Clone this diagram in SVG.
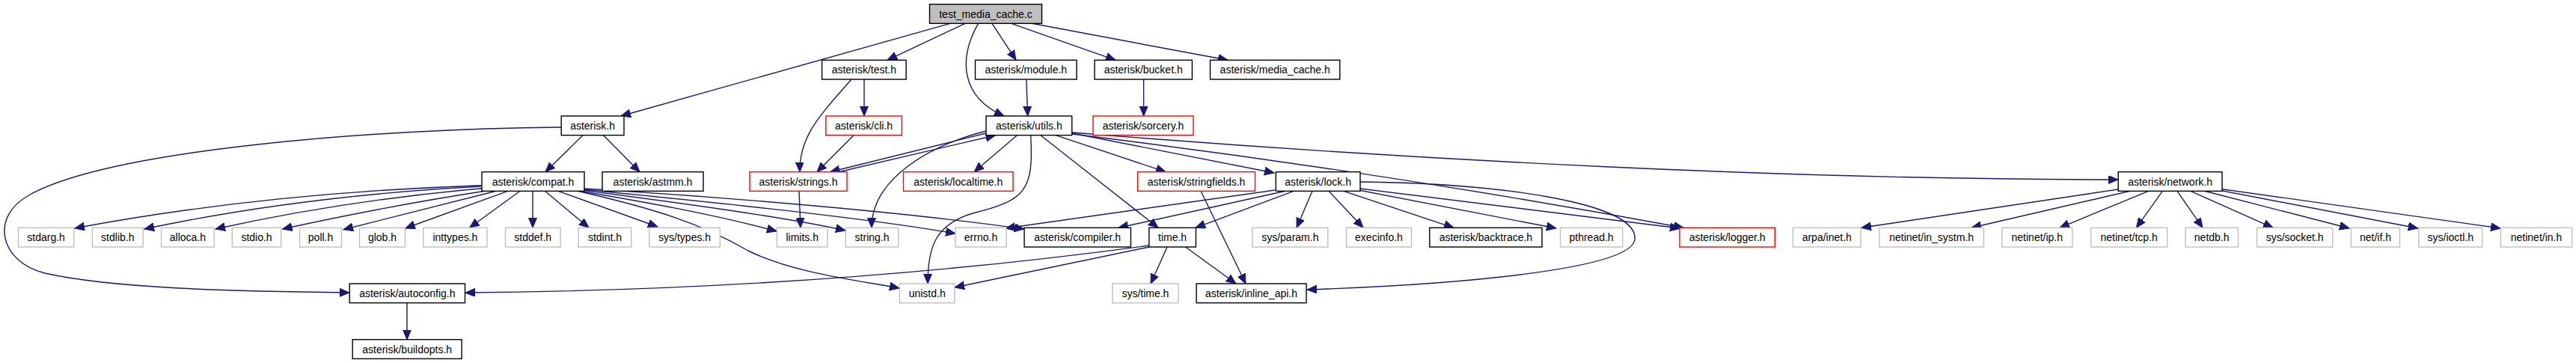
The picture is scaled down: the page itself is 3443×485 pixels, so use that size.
<svg xmlns="http://www.w3.org/2000/svg" width="3443" height="485" viewBox="0 0 3443 485">
<defs>
<marker id="a" markerUnits="userSpaceOnUse" markerWidth="14" markerHeight="12" viewBox="0 0 14 12" refX="13" refY="5.5" orient="auto"><path d="M0,0 L13,5.5 L0,11 z" fill="#191970" stroke="#191970" stroke-width="1"/></marker>
<style>
rect{fill:#fff;stroke:#000;stroke-width:1.4}
.r rect{stroke:#ff0000}
.g rect{stroke:#bfbfbf}
.root rect{fill:#bfbfbf}
text{font-family:"Liberation Sans",Arial,sans-serif;font-size:14px;text-anchor:middle;fill:#000}
#edges path{fill:none;stroke:#191970;stroke-width:1.4;marker-end:url(#a)}
</style>
</defs>
<rect x="0" y="0" width="3443" height="485" style="fill:#fff;stroke:none"/>
<g id="edges">
<path d="M1270,31.3 L830,155"/>
<path d="M1290,31.3 L1186,80.3"/>
<path d="M1307.5,31.3 C1280,80 1285,130 1342,155"/>
<path d="M1326,31.3 L1358,80.3"/>
<path d="M1351.7,31.3 L1491,80.3"/>
<path d="M1379,31.3 L1641,80.3"/>
<path d="M1155,106 L1155,155"/>
<path d="M1138,106 C1100,150 1068,180 1069,229.7"/>
<path d="M1371.8,106 L1373.6,155"/>
<path d="M1528.6,106 L1528.6,155"/>
<path d="M779,180.7 L729,229.7"/>
<path d="M806.5,180.7 L855,229.7"/>
<path d="M750,170 C500,172 150,200 40,260 C-15,290 0,350 60,365 C150,385 300,389 467,391"/>
<path d="M1141,180.7 L1092,229.7"/>
<path d="M1318,178 L1109.5,229.7"/>
<path d="M1121,229.7 L1330.5,180.7"/>
<path d="M1318,175 C1240,195 1165,240 1165,304.3"/>
<path d="M1359.4,180.7 L1302,229.7"/>
<path d="M1377.6,180.7 C1382,255 1370,268 1300,285 C1250,300 1240,330 1240,379"/>
<path d="M1390.8,180.7 L1548,304.3"/>
<path d="M1411,180.7 L1558,229.7"/>
<path d="M1432.7,178 L1703,231"/>
<path d="M1432.7,179 Q1850,230 2250,304.3"/>
<path d="M1432.7,177 C1900,215 2400,240 2831,240"/>
<path d="M643,247.7 Q350,258 100,305"/>
<path d="M643,249 Q400,262 193,306"/>
<path d="M644,251.7 Q460,268 288,306"/>
<path d="M648,255.3 Q520,275 377.6,306"/>
<path d="M663,255.3 L459,306.7"/>
<path d="M678.6,255.3 L541.8,305"/>
<path d="M695,255.3 L627.6,304.3"/>
<path d="M712,255.3 L712,304.3"/>
<path d="M728.4,255.3 L787,304.3"/>
<path d="M746,255.3 L879,303"/>
<path d="M776,255.3 C850,268 950,285 1038,309"/>
<path d="M778,254 C900,270 1050,290 1130,308"/>
<path d="M779,253 C950,270 1150,290 1277,312"/>
<path d="M780,252 C950,262 1200,282 1369,306"/>
<path d="M772,255.3 C880,280 940,300 1000,335 C1060,365 1150,375 1202,385"/>
<path d="M1068,255.3 L1070,304.3"/>
<path d="M1704,254 L1344,305"/>
<path d="M1718,255.3 L1495,304.3"/>
<path d="M1729,255.3 L1598,304.3"/>
<path d="M1754,255.3 L1733,304.3"/>
<path d="M1776,255.3 L1822,304.3"/>
<path d="M1796,255.3 L1943,304.3"/>
<path d="M1816,254 L2080,305"/>
<path d="M1818,252 L2245,305"/>
<path d="M1818,243 C2000,245 2190,270 2185,320 C2180,360 1950,380 1747,387"/>
<path d="M1605,255.3 L1665,379"/>
<path d="M1560,330 L1538,379"/>
<path d="M1584.5,330 L1652,379"/>
<path d="M1536,330 L1276,384"/>
<path d="M1536,328 C1300,360 1000,388 622,391"/>
<path d="M544,404.7 L544,453.7"/>
<path d="M2831,253 L2488,304.3"/>
<path d="M2847,255.3 L2635,304.3"/>
<path d="M2871.5,255.3 L2753,304.3"/>
<path d="M2890.3,255.3 L2855.4,304.3"/>
<path d="M2910,255.3 L2944,304.3"/>
<path d="M2928,255.3 L3038,304.3"/>
<path d="M2946.8,255.3 L3140,305"/>
<path d="M2965.6,254 L3231.7,305"/>
<path d="M2970,252.7 L3342,305"/>
</g>
<g id="n_test_media_cache_c" class="root"><rect x="1242.5" y="5.67" width="150" height="25.67"/><text x="1317.5" y="23.5">test_media_cache.c</text></g>
<g id="n_test_h"><rect x="1098.6" y="80.33" width="112.5" height="25.67"/><text x="1154.85" y="98.1">asterisk/test.h</text></g>
<g id="n_module_h"><rect x="1303.5" y="80.33" width="135.5" height="25.67"/><text x="1371.25" y="98.1">asterisk/module.h</text></g>
<g id="n_bucket_h"><rect x="1463" y="80.33" width="130.4" height="25.67"/><text x="1528.2" y="98.1">asterisk/bucket.h</text></g>
<g id="n_media_cache_h"><rect x="1617.5" y="80.33" width="173.3" height="25.67"/><text x="1704.15" y="98.1">asterisk/media_cache.h</text></g>
<g id="n_asterisk_h"><rect x="750.2" y="155" width="83.8" height="25.67"/><text x="792.1" y="172.8">asterisk.h</text></g>
<g id="n_cli_h" class="r"><rect x="1103.8" y="155" width="101.6" height="25.67"/><text x="1154.6" y="172.8">asterisk/cli.h</text></g>
<g id="n_utils_h"><rect x="1318" y="155" width="114.7" height="25.67"/><text x="1375.35" y="172.8">asterisk/utils.h</text></g>
<g id="n_sorcery_h" class="r"><rect x="1461" y="155" width="134" height="25.67"/><text x="1528" y="172.8">asterisk/sorcery.h</text></g>
<g id="n_compat_h"><rect x="644" y="229.67" width="137" height="25.67"/><text x="712.5" y="247.5">asterisk/compat.h</text></g>
<g id="n_astmm_h"><rect x="805" y="229.67" width="135" height="25.67"/><text x="872.5" y="247.5">asterisk/astmm.h</text></g>
<g id="n_strings_h" class="r"><rect x="1002" y="229.67" width="130" height="25.67"/><text x="1067" y="247.5">asterisk/strings.h</text></g>
<g id="n_localtime_h" class="r"><rect x="1207.5" y="229.67" width="146.5" height="25.67"/><text x="1280.75" y="247.5">asterisk/localtime.h</text></g>
<g id="n_stringfields_h" class="r"><rect x="1520.5" y="229.67" width="157" height="25.67"/><text x="1599" y="247.5">asterisk/stringfields.h</text></g>
<g id="n_lock_h"><rect x="1705.3" y="229.67" width="112.7" height="25.67"/><text x="1761.65" y="247.5">asterisk/lock.h</text></g>
<g id="n_network_h"><rect x="2831.2" y="229.67" width="138.8" height="25.67"/><text x="2900.6" y="247.5">asterisk/network.h</text></g>
<g id="n_stdarg_h" class="g"><rect x="24.5" y="304.33" width="74.2" height="25.67"/><text x="61.6" y="322.1">stdarg.h</text></g>
<g id="n_stdlib_h" class="g"><rect x="123.4" y="304.33" width="67.8" height="25.67"/><text x="157.3" y="322.1">stdlib.h</text></g>
<g id="n_alloca_h" class="g"><rect x="215.6" y="304.33" width="70.7" height="25.67"/><text x="250.95" y="322.1">alloca.h</text></g>
<g id="n_stdio_h" class="g"><rect x="310.3" y="304.33" width="65.4" height="25.67"/><text x="343" y="322.1">stdio.h</text></g>
<g id="n_poll_h" class="g"><rect x="400.6" y="304.33" width="55.9" height="25.67"/><text x="428.55" y="322.1">poll.h</text></g>
<g id="n_glob_h" class="g"><rect x="480.5" y="304.33" width="61" height="25.67"/><text x="511" y="322.1">glob.h</text></g>
<g id="n_inttypes_h" class="g"><rect x="565.8" y="304.33" width="85.2" height="25.67"/><text x="608.4" y="322.1">inttypes.h</text></g>
<g id="n_stddef_h" class="g"><rect x="675.5" y="304.33" width="73.5" height="25.67"/><text x="712.25" y="322.1">stddef.h</text></g>
<g id="n_stdint_h" class="g"><rect x="773.2" y="304.33" width="70.6" height="25.67"/><text x="808.5" y="322.1">stdint.h</text></g>
<g id="n_sys_types_h" class="g"><rect x="867.8" y="304.33" width="94.6" height="25.67"/><text x="915.1" y="322.1">sys/types.h</text></g>
<g id="n_limits_h" class="g"><rect x="1038.5" y="304.33" width="67.5" height="25.67"/><text x="1072.25" y="322.1">limits.h</text></g>
<g id="n_string_h" class="g"><rect x="1130.3" y="304.33" width="70.5" height="25.67"/><text x="1165.55" y="322.1">string.h</text></g>
<g id="n_errno_h" class="g"><rect x="1277" y="304.33" width="68" height="25.67"/><text x="1311" y="322.1">errno.h</text></g>
<g id="n_compiler_h"><rect x="1369" y="304.33" width="142.4" height="25.67"/><text x="1440.2" y="322.1">asterisk/compiler.h</text></g>
<g id="n_time_h"><rect x="1535.8" y="304.33" width="62.6" height="25.67"/><text x="1567.1" y="322.1">time.h</text></g>
<g id="n_sys_param_h" class="g"><rect x="1673.8" y="304.33" width="101" height="25.67"/><text x="1724.3" y="322.1">sys/param.h</text></g>
<g id="n_execinfo_h" class="g"><rect x="1799.5" y="304.33" width="87" height="25.67"/><text x="1843" y="322.1">execinfo.h</text></g>
<g id="n_backtrace_h"><rect x="1910.8" y="304.33" width="150.2" height="25.67"/><text x="1985.9" y="322.1">asterisk/backtrace.h</text></g>
<g id="n_pthread_h" class="g"><rect x="2085.5" y="304.33" width="83.2" height="25.67"/><text x="2127.1" y="322.1">pthread.h</text></g>
<g id="n_logger_h" class="r"><rect x="2245" y="304.33" width="127.3" height="25.67"/><text x="2308.65" y="322.1">asterisk/logger.h</text></g>
<g id="n_arpa_inet_h" class="g"><rect x="2396.4" y="304.33" width="90.7" height="25.67"/><text x="2441.75" y="322.1">arpa/inet.h</text></g>
<g id="n_netinet_in_systm_h" class="g"><rect x="2511.8" y="304.33" width="139.7" height="25.67"/><text x="2581.65" y="322.1">netinet/in_systm.h</text></g>
<g id="n_netinet_ip_h" class="g"><rect x="2675.7" y="304.33" width="94.2" height="25.67"/><text x="2722.8" y="322.1">netinet/ip.h</text></g>
<g id="n_netinet_tcp_h" class="g"><rect x="2794.6" y="304.33" width="102.2" height="25.67"/><text x="2845.7" y="322.1">netinet/tcp.h</text></g>
<g id="n_netdb_h" class="g"><rect x="2921" y="304.33" width="70.4" height="25.67"/><text x="2956.2" y="322.1">netdb.h</text></g>
<g id="n_sys_socket_h" class="g"><rect x="3016.6" y="304.33" width="101.1" height="25.67"/><text x="3067.15" y="322.1">sys/socket.h</text></g>
<g id="n_net_if_h" class="g"><rect x="3142.4" y="304.33" width="65.1" height="25.67"/><text x="3174.95" y="322.1">net/if.h</text></g>
<g id="n_sys_ioctl_h" class="g"><rect x="3232.8" y="304.33" width="84.9" height="25.67"/><text x="3275.25" y="322.1">sys/ioctl.h</text></g>
<g id="n_netinet_in_h" class="g"><rect x="3342.4" y="304.33" width="95.2" height="25.67"/><text x="3390" y="322.1">netinet/in.h</text></g>
<g id="n_autoconfig_h"><rect x="467.2" y="379" width="154.3" height="25.67"/><text x="544.35" y="396.8">asterisk/autoconfig.h</text></g>
<g id="n_unistd_h" class="g"><rect x="1202.4" y="379" width="73.6" height="25.67"/><text x="1239.2" y="396.8">unistd.h</text></g>
<g id="n_sys_time_h" class="g"><rect x="1486.8" y="379" width="88.2" height="25.67"/><text x="1530.9" y="396.8">sys/time.h</text></g>
<g id="n_inline_api_h"><rect x="1599.1" y="379" width="146.9" height="25.67"/><text x="1672.55" y="396.8">asterisk/inline_api.h</text></g>
<g id="n_buildopts_h"><rect x="471.2" y="453.67" width="145.9" height="25.67"/><text x="544.15" y="471.5">asterisk/buildopts.h</text></g>
</svg>
